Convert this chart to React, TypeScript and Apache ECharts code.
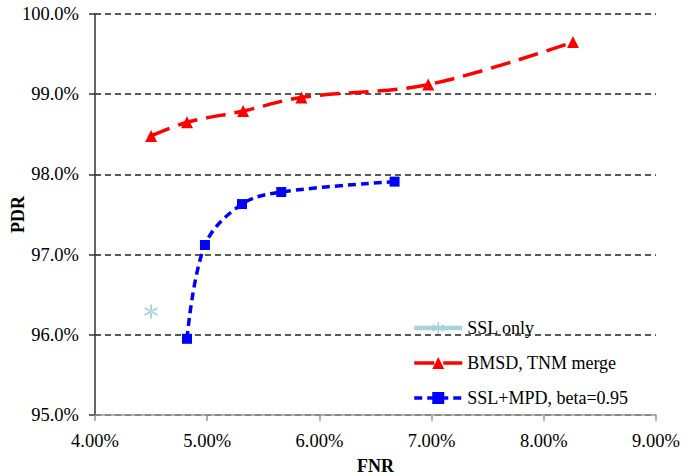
import React, { useEffect, useRef } from "react";
import * as echarts from "echarts";

const sslOnly: [number, number][] = [[4.5, 96.29]];
const bmsd: [number, number][] = [
  [4.5, 98.48],
  [4.82, 98.65],
  [5.32, 98.79],
  [5.84, 98.96],
  [6.97, 99.12],
  [8.26, 99.65],
];
const sslMpd: [number, number][] = [
  [4.82, 95.95],
  [4.98, 97.12],
  [5.31, 97.63],
  [5.66, 97.78],
  [6.67, 97.91],
];
const seriesNames = ["SSL only", "BMSD, TNM merge", "SSL+MPD, beta=0.95"];

const asterisk =
  "path://M-1.3,-10 L1.3,-10 L1.3,10 L-1.3,10 Z M7.99,6.16 L9.29,3.91 L-7.99,-6.16 L-9.29,-3.91 Z M-7.99,6.16 L-9.29,3.91 L7.99,-6.16 L9.29,-3.91 Z";

const FONT = "'Liberation Serif', 'Times New Roman', serif";

export default function App() {
  const ref = useRef<HTMLDivElement>(null);
  useEffect(() => {
    if (!ref.current) return;
    const chart = echarts.init(ref.current, null, { renderer: "svg" });
    chart.setOption({
      animation: false,
      backgroundColor: "#ffffff",
      grid: { left: 95, right: 41, top: 14, bottom: 61, outerBoundsMode: "none", containLabel: false },
      xAxis: {
        type: "value",
        min: 4,
        max: 9,
        interval: 1,
        name: "FNR",
        nameLocation: "middle",
        nameGap: 42,
        nameMoveOverlap: false,
        nameTextStyle: { fontFamily: FONT, fontSize: 18, fontWeight: "bold", color: "#000" },
        axisLine: { show: true, lineStyle: { color: "#999", width: 1.5 } },
        axisTick: { show: true, length: 6, lineStyle: { color: "#999", width: 1.5 } },
        axisLabel: {
          fontFamily: FONT,
          fontSize: 18.5,
          color: "#000",
          margin: 16,
          formatter: (v: number) => v.toFixed(2) + "%",
        },
        splitLine: { show: false },
      },
      yAxis: {
        type: "value",
        min: 95,
        max: 100,
        interval: 1,
        name: "PDR",
        nameLocation: "middle",
        nameGap: 68,
        nameRotate: 90,
        nameMoveOverlap: false,
        nameTextStyle: { fontFamily: FONT, fontSize: 18, fontWeight: "bold", color: "#000" },
        axisLine: { show: true, lineStyle: { color: "#333", width: 1.5 } },
        axisTick: { show: true, length: 6, lineStyle: { color: "#333", width: 1.5 } },
        axisLabel: {
          fontFamily: FONT,
          fontSize: 18.5,
          color: "#000",
          margin: 16,
          formatter: (v: number) => v.toFixed(1) + "%",
        },
        splitLine: { show: true, lineStyle: { color: "#222", width: 1.5, type: [6, 4] } },
      },
      legend: {
        orient: "vertical",
        left: 407,
        top: 313,
        itemWidth: 48,
        itemHeight: 15,
        itemGap: 15,
        lineStyle: { width: "inherit", type: "inherit" },
        textStyle: { fontFamily: FONT, fontSize: 18, color: "#000", lineHeight: 20 },
        data: seriesNames,
      },
      series: [
        {
          name: seriesNames[0],
          type: "line",
          data: sslOnly,
          symbol: asterisk,
          symbolSize: 14,
          itemStyle: { color: "#a9d3d8" },
          lineStyle: { color: "#a9d3d8", width: 4.5 },
        },
        {
          name: seriesNames[1],
          type: "line",
          data: bmsd,
          smooth: 0.35,
          symbol: "triangle",
          symbolSize: 12,
          itemStyle: { color: "#ff0000" },
          lineStyle: { color: "#ff0000", width: 3.5, type: [20, 9] },
        },
        {
          name: seriesNames[2],
          type: "line",
          data: sslMpd,
          smooth: 0.35,
          symbol: "rect",
          symbolSize: 10,
          itemStyle: { color: "#0000ff" },
          lineStyle: { color: "#0000ff", width: 3.5, type: [8, 5] },
        },
      ],
    });
    return () => chart.dispose();
  }, []);
  return (
    <div
      ref={ref}
      style={{ position: "fixed", left: 0, top: 0, width: 697, height: 476 }}
    />
  );
}
